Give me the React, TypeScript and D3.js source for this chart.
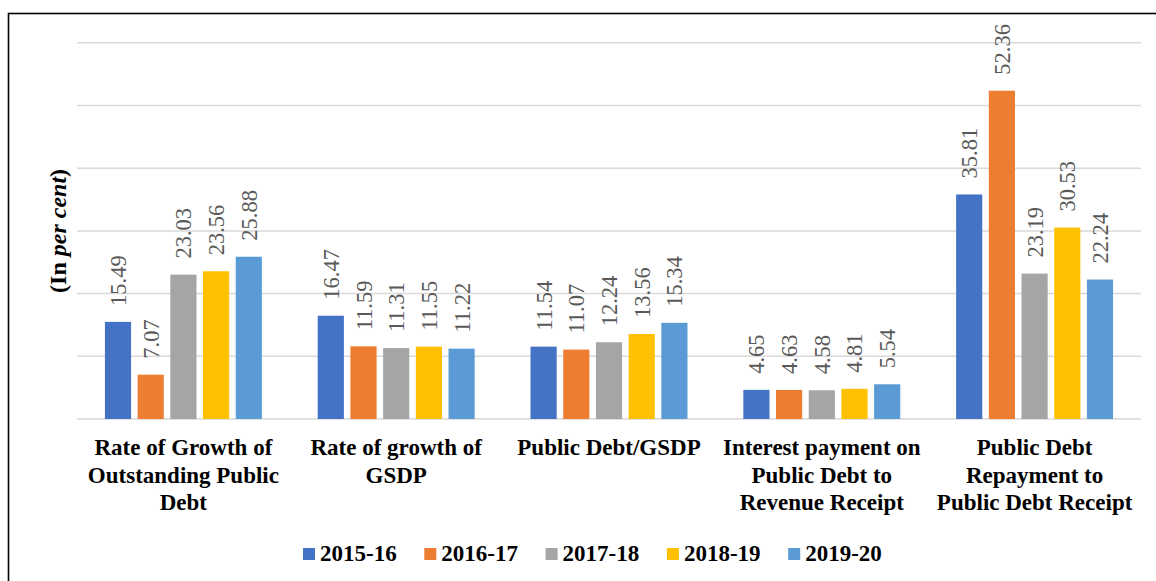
import React from "react";
import * as d3 from "d3";

const categories: string[][] = [
  ["Rate of Growth of", "Outstanding Public", "Debt"],
  ["Rate of growth of", "GSDP"],
  ["Public Debt/GSDP"],
  ["Interest payment on", "Public Debt to", "Revenue Receipt"],
  ["Public Debt", "Repayment to", "Public Debt Receipt"],
];
const series = ["2015-16", "2016-17", "2017-18", "2018-19", "2019-20"];
const colors = ["#4472C4", "#ED7D31", "#A5A5A5", "#FFC000", "#5B9BD5"];
const values2015 = [15.49, 16.47, 11.54, 4.65, 35.81];
const values2016 = [7.07, 11.59, 11.07, 4.63, 52.36];
const values2017 = [23.03, 11.31, 12.24, 4.58, 23.19];
const values2018 = [23.56, 11.55, 13.56, 4.81, 30.53];
const values2019 = [25.88, 11.22, 15.34, 5.54, 22.24];
const yTicks = [0, 10, 20, 30, 40, 50, 60];

const seriesValues = [values2015, values2016, values2017, values2018, values2019];

export default function App() {
  const W = 1156;
  const H = 581;
  const left = 77;
  const right = 1141;
  const top = 42.8;
  const bottom = 419;
  const font = '"Liberation Serif", "Times New Roman", "DejaVu Serif", serif';
  const fs = { fontFamily: font };

  const catIdx = categories.map((_, i) => String(i));
  const x0 = d3.scaleBand<string>().domain(catIdx).range([left, right]).padding(0);
  const x1 = d3
    .scaleBand<string>()
    .domain(series)
    .range([0, x0.bandwidth()])
    .paddingInner(0.2)
    .paddingOuter(0.854);
  const y = d3.scaleLinear().domain([0, 60]).range([bottom, top]);

  const legendStart = 303;
  const legendStep = 121.3;

  return (
    <svg
      width={W}
      height={H}
      style={{ position: "absolute", left: 0, top: 0, background: "#fff", fontFamily: font }}
    >
      <rect x={0} y={0} width={W} height={H} fill="#fff" />
      <rect x={8.5} y={13.5} width={W + 20} height={H + 20} fill="none" stroke="#000" strokeWidth={1.6} />
      {yTicks.map((t) => (
        <line
          key={t}
          x1={left}
          x2={right}
          y1={y(t)}
          y2={y(t)}
          stroke="#d9d9d9"
          strokeWidth={1.5}
        />
      ))}
      {seriesValues.map((vals, si) =>
        vals.map((v, ci) => {
          const bx = (x0(String(ci)) as number) + (x1(series[si]) as number);
          const bw = x1.bandwidth();
          const cx = bx + bw / 2;
          const ty = y(v) - 16;
          return (
            <g key={`${si}-${ci}`}>
              <rect x={bx} y={y(v)} width={bw} height={bottom - y(v)} fill={colors[si]} />
              <text
                transform={`translate(${cx + 8},${ty}) rotate(-90)`}
                fontSize={22.5}
                fill="#595959"
                textAnchor="start"
                style={fs}
              >
                {v.toFixed(2)}
              </text>
            </g>
          );
        })
      )}
      {categories.map((lines, ci) => {
        const cx = (x0(String(ci)) as number) + x0.bandwidth() / 2;
        return (
          <text key={ci} textAnchor="middle" fontSize={23} fontWeight="bold" fill="#000" style={fs}>
            {lines.map((ln, li) => (
              <tspan key={li} x={cx} y={455 + li * 27.5}>
                {ln}
              </tspan>
            ))}
          </text>
        );
      })}
      <text
        transform={`translate(66,${(top + bottom) / 2}) rotate(-90)`}
        textAnchor="middle"
        fontSize={24}
        fontWeight="bold"
        fill="#000"
        style={fs}
      >
        (In <tspan fontStyle="italic">per cent</tspan>)
      </text>
      {series.map((s, i) => {
        const lx = legendStart + i * legendStep;
        return (
          <g key={s}>
            <rect x={lx} y={548} width={12} height={12} fill={colors[i]} />
            <text x={lx + 17} y={561} fontSize={23} fontWeight="bold" fill="#000" style={fs}>
              {s}
            </text>
          </g>
        );
      })}
    </svg>
  );
}
